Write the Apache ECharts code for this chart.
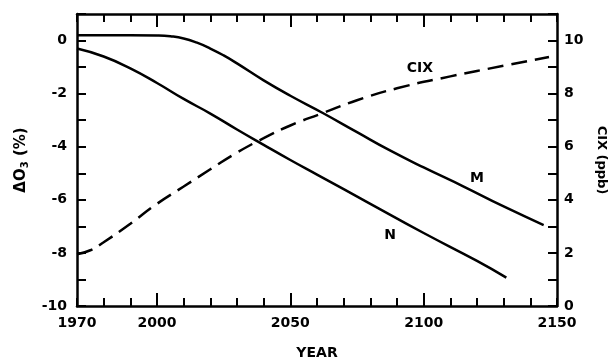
<!DOCTYPE html>
<html><head><meta charset="utf-8">
<script src="https://cdn.jsdelivr.net/npm/echarts@6/dist/echarts.min.js"></script>
<style>html,body{margin:0;padding:0;background:#fff}#c{width:609px;height:362px}</style>
</head><body><div id="c"></div>
<script>
// Ozone change (%) curves
const curveM = [[1970,0.2],[1990,0.2],[2000,0.19],[2005,0.16],[2010,0.08],[2015,-0.08],[2020,-0.3],[2025,-0.56],[2030,-0.86],[2040,-1.5],[2050,-2.08],[2062,-2.72],[2075,-3.45],[2087,-4.12],[2100,-4.78],[2115,-5.5],[2130,-6.25],[2145,-6.95]];
const curveN = [[1970,-0.3],[1980,-0.6],[1990,-1.05],[2000,-1.6],[2010,-2.2],[2020,-2.75],[2030,-3.35],[2040,-3.93],[2050,-4.5],[2060,-5.05],[2080,-6.15],[2100,-7.25],[2120,-8.3],[2131,-8.93]];
// Chlorine (ppb)
const curveCIX = [[1970,1.95],[1975,2.1],[1980,2.4],[1990,3.1],[2000,3.85],[2010,4.5],[2020,5.15],[2030,5.78],[2040,6.32],[2050,6.8],[2062,7.26],[2075,7.75],[2090,8.2],[2110,8.65],[2130,9.05],[2147,9.38]];
const xLabels = [1970,2000,2050,2100,2150];
const xMajorTicks = [2000,2050,2100];
const leftLabels = [-10,-8,-6,-4,-2,0];
const rightLabels = [0,2,4,6,8,10];
const curveLabels = [{name:'CIX',value:[2098.6,-1.05]},{name:'M',value:[2120,-5.18]},{name:'N',value:[2087.4,-7.33]}];

const FONT = 'DejaVu Sans';
const lineStyle = {color:'#000', width:2.5};
const lbl = {color:'#000', fontFamily:FONT, fontWeight:'bold', fontSize:14};
function xAx(pos, showLine, ticks, len, labels){
  return {type:'value', min:1970, max:2150, interval:10, position:pos,
    axisLine:{show:showLine, onZero:false, lineStyle:lineStyle},
    axisTick:{show:true, inside:true, length:len, lineStyle:{color:'#000',width:2}, customValues:ticks},
    axisLabel:labels ? Object.assign({customValues:xLabels, margin:10, formatter:v=>String(v)}, lbl) : {show:false},
    splitLine:{show:false}};
}
const option = {
  animation:false,
  backgroundColor:'#fff',
  grid:{left:77, right:52, top:14, bottom:56, containLabel:false, outerBoundsMode:'none'},
  xAxis:[
    Object.assign(xAx('bottom', true, undefined, 8, true), {name:'YEAR', nameLocation:'middle', nameGap:40, nameTextStyle:lbl}),
    xAx('bottom', false, xMajorTicks, 13, false),
    xAx('top', true, undefined, 8, false),
    xAx('top', false, xMajorTicks, 13, false)
  ],
  yAxis:[
    {type:'value', min:-10, max:1, interval:1, position:'left',
     name:'{a|ΔO}{s|3}{a| (%)}', nameLocation:'middle', nameGap:44, nameRotate:90,
     nameTextStyle:{rich:{a:Object.assign({}, lbl, {fontSize:15}), s:Object.assign({}, lbl, {fontSize:10, verticalAlign:'bottom', padding:[9,0,0,0]})}},
     axisLine:{show:true, onZero:false, lineStyle:lineStyle},
     axisTick:{inside:true, length:9, lineStyle:{color:'#000',width:2}},
     axisLabel:Object.assign({customValues:leftLabels, margin:10}, lbl),
     splitLine:{show:false}},
    {type:'value', min:0, max:11, interval:1, position:'right',
     name:'CIX (ppb)', nameLocation:'middle', nameGap:27, nameRotate:-90, nameTextStyle:Object.assign({}, lbl, {fontSize:13}),
     axisLine:{show:true, onZero:false, lineStyle:lineStyle},
     axisTick:{inside:true, length:9, lineStyle:{color:'#000',width:2}},
     axisLabel:Object.assign({customValues:rightLabels, margin:7}, lbl),
     splitLine:{show:false}}
  ],
  series:[
    {type:'line', name:'M', data:curveM, xAxisIndex:0, yAxisIndex:0, smooth:0.5, showSymbol:false, lineStyle:{color:'#000', width:2.5}},
    {type:'line', name:'N', data:curveN, xAxisIndex:0, yAxisIndex:0, smooth:0.5, showSymbol:false, lineStyle:{color:'#000', width:2.5}},
    {type:'line', name:'CIX', data:curveCIX, xAxisIndex:0, yAxisIndex:1, smooth:0.5, showSymbol:false, lineStyle:{color:'#000', width:2.5, type:[16,8]}},
    {type:'scatter', data:curveLabels, xAxisIndex:0, yAxisIndex:0, symbolSize:0, itemStyle:{opacity:1},
     label:Object.assign({show:true, position:[0,0], align:'center', verticalAlign:'middle', formatter:p=>p.name}, lbl)}
  ]
};
const chart = echarts.init(document.getElementById('c'), null, {renderer:'canvas'});
chart.setOption(option);
</script></body></html>
